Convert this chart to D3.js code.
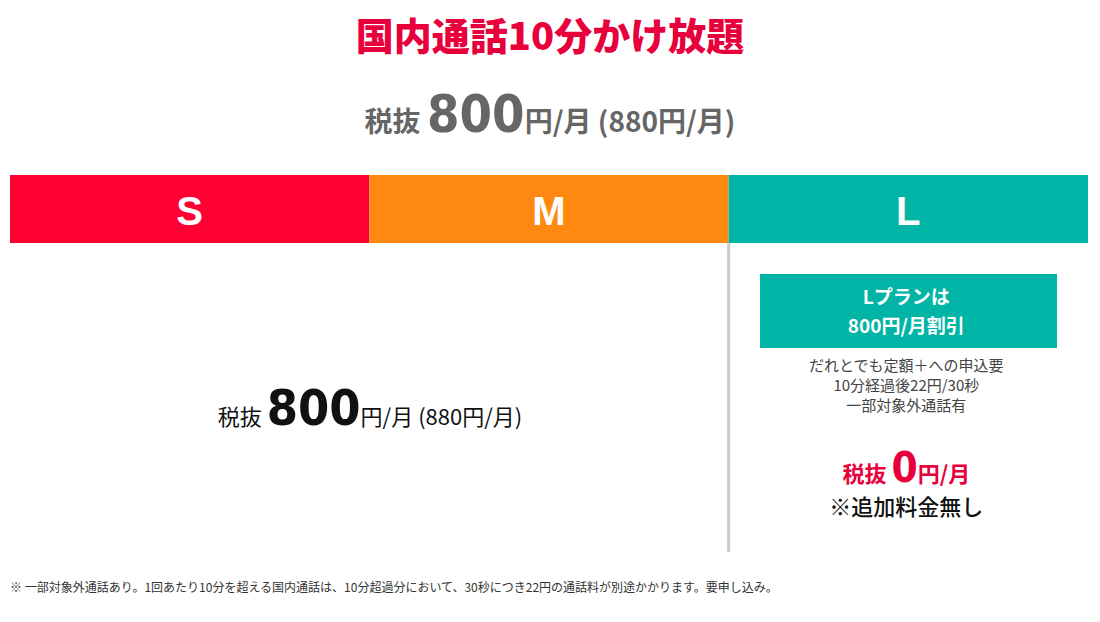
<!DOCTYPE html>
<html><head><meta charset="utf-8">
<script src="https://cdn.jsdelivr.net/npm/d3@7"></script>
<style>body{margin:0;background:#fff}svg{font-family:"Noto Sans CJK JP","Noto Sans",sans-serif}</style>
</head><body>
<svg width="1100" height="622"></svg>
<script>
var plans = ["S", "M", "L"];
var planColors = ["#ff0033", "#ff8811", "#00b5a5"];
var title = "国内通話10分かけ放題";
var price = "800", priceTax = "880";
var lNotes = ["だれとでも定額＋への申込要", "10分経過後22円/30秒", "一部対象外通話有"];
var lDiscount = ["Lプランは", "800円/月割引"];
var footnote = "※ 一部対象外通話あり。1回あたり10分を超える国内通話は、10分超過分において、30秒につき22円の通話料が別途かかります。要申し込み。";

var svg = d3.select("svg");
var x = d3.scaleBand().domain(plans).range([10, 1088]);

svg.append("text").attr("x", 550).attr("y", 50).attr("text-anchor", "middle")
  .attr("font-size", 38).attr("font-weight", 900).attr("fill", "#e8003c").text(title);

// price line helper
function priceLine(cx, y, color, small, big, parts) {
  var t = svg.append("text").attr("x", cx).attr("y", y).attr("text-anchor", "middle")
    .attr("fill", color).attr("font-size", small).attr("font-weight", parts.w || 400);
  t.append("tspan").text(parts.pre);
  t.append("tspan").attr("font-size", big).attr("font-weight", 900)
    .attr("font-family", "'DejaVu Sans Condensed','Liberation Sans Narrow',sans-serif").text(parts.num);
  t.append("tspan").text(parts.post);
}
priceLine(550, 132, "#666", 28, 52, {pre: "税抜 ", num: price, post: "円/月 (" + priceTax + "円/月)", w: 700});

svg.selectAll("rect.band").data(plans).join("rect").attr("class", "band")
  .attr("x", d => x(d)).attr("y", 175).attr("width", x.bandwidth()).attr("height", 68)
  .attr("fill", (d, i) => planColors[i]);
svg.selectAll("text.band").data(plans).join("text").attr("class", "band")
  .attr("x", d => x(d) + x.bandwidth() / 2).attr("y", 225).attr("text-anchor", "middle")
  .attr("fill", "#fff").attr("font-size", 40).attr("font-weight", 700)
  .attr("font-family", "Liberation Sans, Arial, sans-serif").text(d => d);

svg.append("line").attr("x1", x("L")).attr("x2", x("L")).attr("y1", 243).attr("y2", 552)
  .attr("stroke", "#ccc").attr("stroke-width", 3);

priceLine(370, 425, "#111", 22, 50, {pre: "税抜 ", num: price, post: "円/月 (" + priceTax + "円/月)"});

var lc = x("L") + x.bandwidth() / 2 - 2;
svg.append("rect").attr("x", 760).attr("y", 274).attr("width", 297).attr("height", 74).attr("fill", "#00b5a5");
svg.selectAll("text.disc").data(lDiscount).join("text").attr("class", "disc")
  .attr("x", lc).attr("y", (d, i) => 304 + i * 29).attr("text-anchor", "middle")
  .attr("fill", "#fff").attr("font-size", 19).attr("font-weight", 700).text(d => d);
svg.selectAll("text.note").data(lNotes).join("text").attr("class", "note")
  .attr("x", lc).attr("y", (d, i) => 371 + i * 20).attr("text-anchor", "middle")
  .attr("fill", "#444").attr("font-size", 15).text(d => d);

priceLine(lc, 482, "#e8003c", 22, 42, {pre: "税抜 ", num: "0", post: "円/月", w: 700});
svg.append("text").attr("x", lc).attr("y", 515).attr("text-anchor", "middle")
  .attr("font-size", 22).attr("fill", "#111").attr("font-weight", 500).text("※追加料金無し");

svg.append("text").attr("x", 10).attr("y", 592).attr("font-size", 12).attr("fill", "#333").text(footnote);
</script>
</body></html>
